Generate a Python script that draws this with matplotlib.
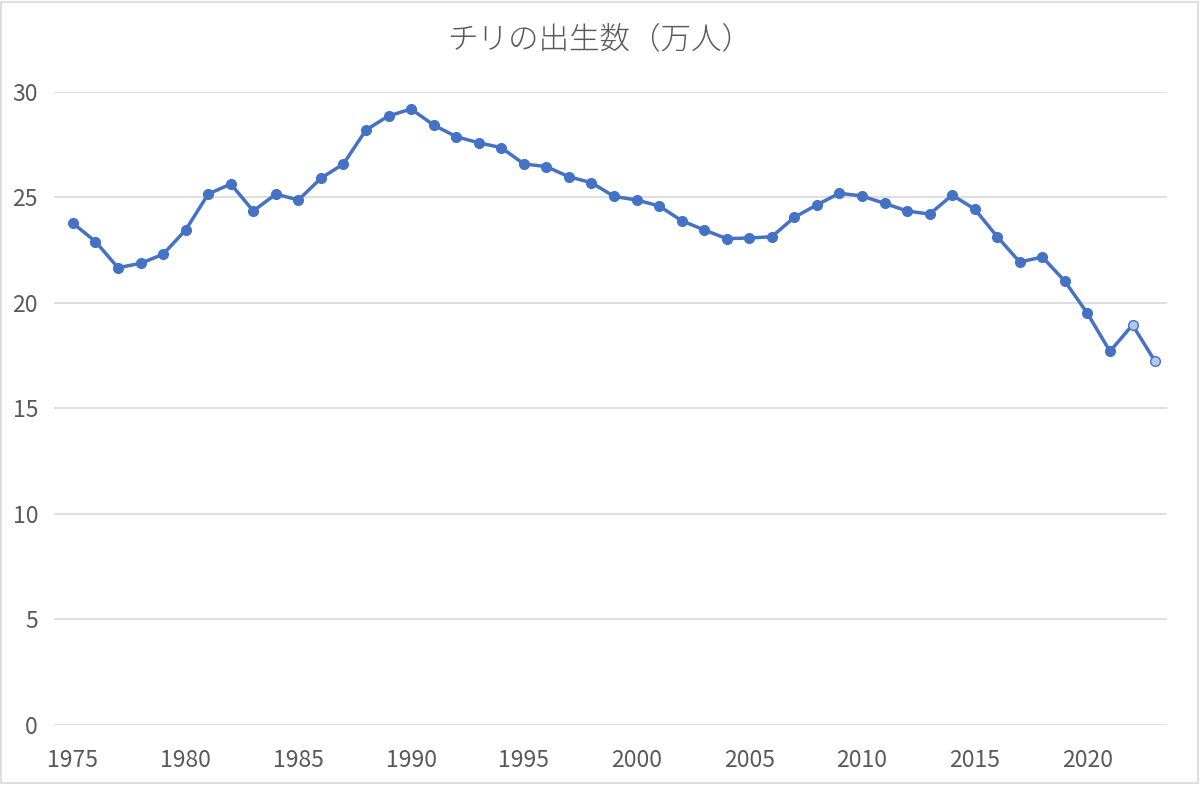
import matplotlib
matplotlib.use("Agg")
import matplotlib.pyplot as plt
from matplotlib.patches import Rectangle

plt.rcParams['font.family'] = ['Noto Sans CJK JP', 'DejaVu Sans']

years = list(range(1975, 2024))
births = [23.77, 22.90, 21.66, 21.87, 22.30, 23.45, 25.15, 25.63, 24.35, 25.15,
          24.87, 25.90, 26.58, 28.19, 28.85, 29.18, 28.42, 27.87, 27.58, 27.35,
          26.58, 26.45, 25.97, 25.69, 25.04, 24.87, 24.59, 23.89, 23.45, 23.04,
          23.07, 23.13, 24.05, 24.64, 25.19, 25.06, 24.71, 24.35, 24.20, 25.10,
          24.44, 23.13, 21.93, 22.17, 21.02, 19.50, 17.70, 18.95, 17.23]
# last two years are provisional (drawn with a light fill)
n_provisional = 2

title = "チリの出生数（万人）"
x_ticks = list(range(1975, 2021, 5))
y_ticks = [0, 5, 10, 15, 20, 25, 30]

blue = "#4472C4"
light = "#B4C7E7"
gray = "#595959"

fig = plt.figure(figsize=(12, 7.85), dpi=100)
ax = fig.add_axes([54/1200, 60/785, (1167-54)/1200, (725-91.7)/785])

ax.plot(years, births, color=blue, lw=2.5, zorder=3)
n = len(years) - n_provisional
ax.plot(years[:n], births[:n], ls="none", marker="o", ms=7,
        color=blue, zorder=4)
ax.plot(years[n:], births[n:], ls="none", marker="o", ms=7,
        mfc=light, mec=blue, mew=1.0, zorder=4)

ax.set_xlim(1974.16, 2023.53)
ax.set_ylim(0, 30)
ax.set_xticks(x_ticks)
ax.set_yticks(y_ticks)
ax.grid(axis="y", color="#D9D9D9", lw=1.2)
ax.set_axisbelow(True)
for s in ax.spines.values():
    s.set_visible(False)
ax.tick_params(axis="both", length=0, labelsize=16.5, labelcolor=gray)
ax.tick_params(axis="x", pad=17)
ax.tick_params(axis="y", pad=11.5)

fig.text(0.5, 1 - 39/785, title, ha="center", va="center",
         fontsize=22, color=gray, fontweight=300)

fig.patches.append(Rectangle((0.001, 0.002), 0.997, 0.996,
                             transform=fig.transFigure, fill=False,
                             ec="#D9D9D9", lw=1.2))

fig.savefig("out.png", dpi=100)
